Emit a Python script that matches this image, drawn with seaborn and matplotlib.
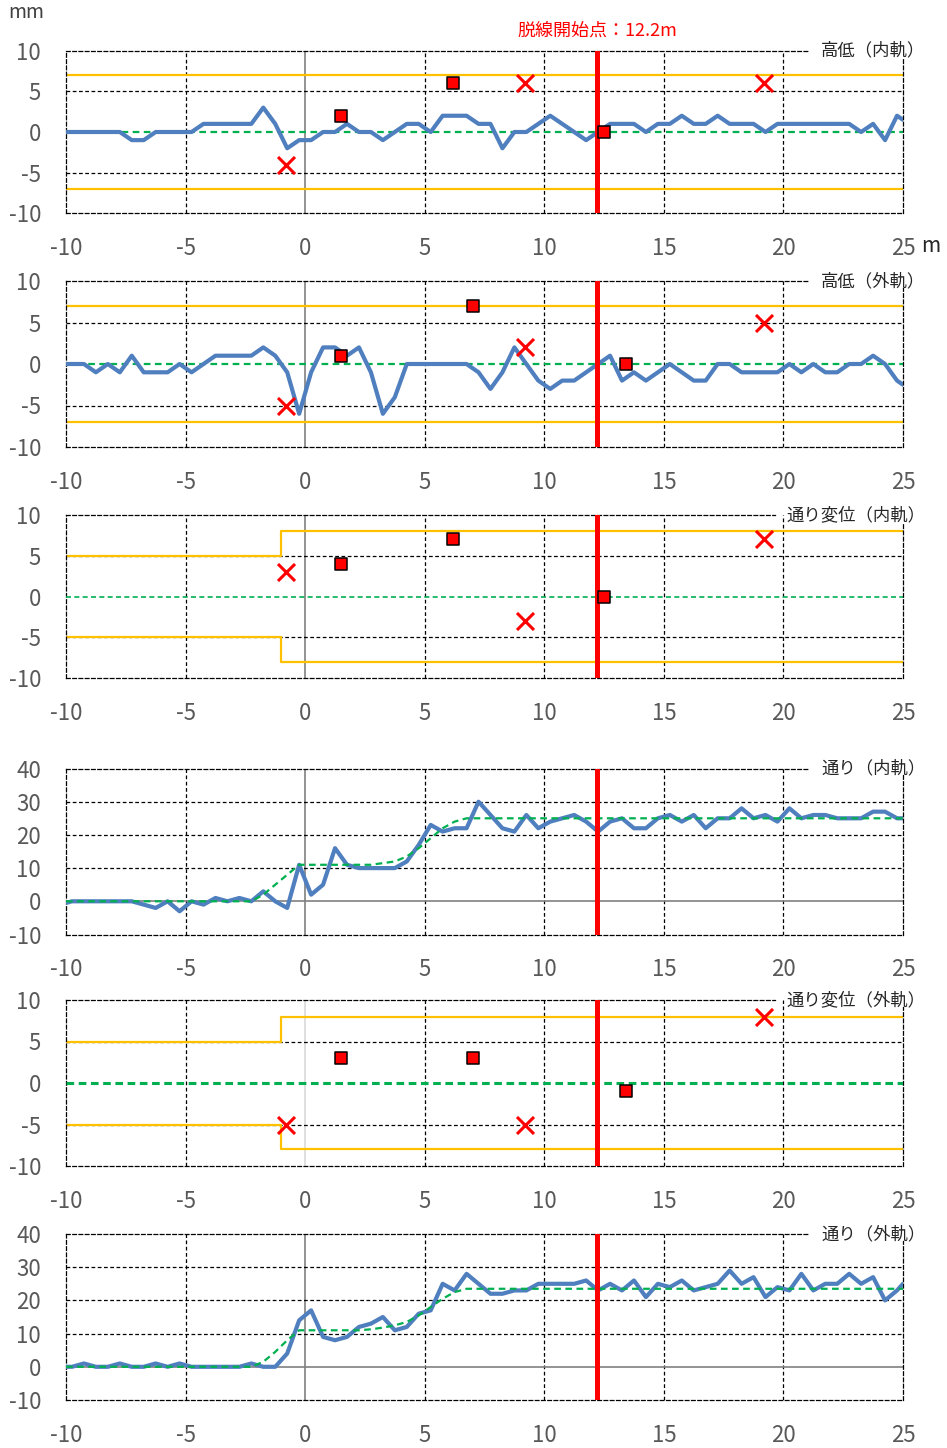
import numpy as np
import matplotlib
matplotlib.use("Agg")
import matplotlib.pyplot as plt
import matplotlib.transforms as mtrans
import seaborn as sns

# ---------------- data ----------------
x_pos = [-10.0] + list(np.arange(-9.75, 25.0, 0.5)) + [25.0]

takatei_inner = [0,
                 0, 0, 0, 0, 0, -1, -1, 0, 0, 0,
                 0, 1, 1, 1, 1, 1, 3, 1, -2, -1,
                 -1, 0, 0, 1, 0, 0, -1, 0, 1, 1,
                 0, 2, 2, 2, 1, 1, -2, 0, 0, 1,
                 2, 1, 0, -1, 0, 1, 1, 1, 0, 1,
                 1, 2, 1, 1, 2, 1, 1, 1, 0, 1,
                 1, 1, 1, 1, 1, 1, 0, 1, -1, 2,
                 1.5]

takatei_outer = [0,
                 0, 0, -1, 0, -1, 1, -1, -1, -1, 0,
                 -1, 0, 1, 1, 1, 1, 2, 1, -1, -6,
                 -1, 2, 2, 1, 2, -1, -6, -4, 0, 0,
                 0, 0, 0, 0, -1, -3, -1, 2, 0, -2,
                 -3, -2, -2, -1, 0, 1, -2, -1, -2, -1,
                 0, -1, -2, -2, 0, 0, -1, -1, -1, -1,
                 0, -1, 0, -1, -1, 0, 0, 1, 0, -2,
                 -2.5]

tori_inner = [-0.5,
              0, 0, 0, 0, 0, 0, -1, -2, 0, -3,
              0, -1, 1, 0, 1, 0, 3, 0, -2, 11,
              2, 5, 16, 11, 10, 10, 10, 10, 12, 17,
              23, 21, 22, 22, 30, 26, 22, 21, 26, 22,
              24, 25, 26, 24, 21, 24, 25, 22, 22, 25,
              26, 24, 26, 22, 25, 25, 28, 25, 26, 24,
              28, 25, 26, 26, 25, 25, 25, 27, 27, 25,
              25]

tori_inner_plan = [0,
                   0, 0, 0, 0, 0, 0, 0, 0, 0, 0,
                   0, 0, 0, 0, 0, 0, 2, 5, 8, 11,
                   11, 11, 11, 11, 11, 11, 11.5, 12, 13.5, 16,
                   19, 22, 24, 25, 25, 25, 25, 25, 25, 25,
                   25, 25, 25, 25, 25, 25, 25, 25, 25, 25,
                   25, 25, 25, 25, 25, 25, 25, 25, 25, 25,
                   25, 25, 25, 25, 25, 25, 25, 25, 25, 25,
                   25]

tori_outer = [0,
              0, 1, 0, 0, 1, 0, 0, 1, 0, 1,
              0, 0, 0, 0, 0, 1, 0, 0, 4, 14,
              17, 9, 8, 9, 12, 13, 15, 11, 12, 16,
              17, 25, 23, 28, 25, 22, 22, 23, 23, 25,
              25, 25, 25, 26, 23, 25, 23, 26, 21, 25,
              24, 26, 23, 24, 25, 29, 25, 27, 21, 24,
              23, 28, 23, 25, 25, 28, 25, 27, 20, 23,
              25]

tori_outer_plan = [0,
                   0, 0, 0, 0, 0, 0, 0, 0, 0, 0,
                   0, 0, 0, 0, 0, 0, 1.5, 4.5, 8, 11,
                   11, 11, 11, 11, 11, 11.3, 11.8, 12.5, 13.5, 15.5,
                   18, 20.5, 22.5, 23.5, 23.5, 23.5, 23.5, 23.5, 23.5, 23.5,
                   23.5, 23.5, 23.5, 23.5, 23.5, 23.5, 23.5, 23.5, 23.5, 23.5,
                   23.5, 23.5, 23.5, 23.5, 23.5, 23.5, 23.5, 23.5, 23.5, 23.5,
                   23.5, 23.5, 23.5, 23.5, 23.5, 23.5, 23.5, 23.5, 23.5, 23.5,
                   23.5]

# markers (red squares / red crosses)
sq_x_inner = [1.5, 6.2, 12.5]
sq_x_outer = [1.5, 7.0, 13.4]
cross_x = [-0.8, 9.2, 19.2]

p1_sq_y = [2, 6, 0]
p1_cross_y = [-4, 6, 6]
p2_sq_y = [1, 7, 0]
p2_cross_y = [-5, 2, 5]
p3_sq_y = [4, 7, 0]
p3_cross_y = [3, -3, 7]
p5_sq_y = [3, 3, -1]
p5_cross_y = [-5, -5, 8]

# limit lines
range_x = [-10, 25]
takatei_limit = 7
step_x = [-10, -1, 25]
step_upper = [5, 8, 8]
step_lower = [-5, -8, -8]

derail_x = 12.2
derail_label = "脱線開始点：12.2m"

panel_titles = ["高低（内軌）", "高低（外軌）", "通り変位（内軌）",
                "通り（内軌）", "通り変位（外軌）", "通り（外軌）"]

x_ticks = [-10, -5, 0, 5, 10, 15, 20, 25]
y_ticks_small = [-10, -5, 0, 5, 10]
y_ticks_large = [-10, 0, 10, 20, 30, 40]

# ---------------- style ----------------
sns.set_theme(style="white")
plt.rcParams["font.family"] = ["Noto Sans CJK JP", "DejaVu Sans"]
plt.rcParams["axes.unicode_minus"] = False

BLUE = "#4F7FBE"
YELLOW = "#FFC000"
GREEN = "#00B050"
RED = "#FF0000"
TICKC = "#595959"
DASH = (0, (3, 2))

W, H = 947, 1448
fig = plt.figure(figsize=(W / 100, H / 100), dpi=100)

panel_px = [(50.7, 213.3), (281, 447), (515, 678),
            (768.5, 934.5), (1000, 1166), (1234, 1400)]

axes = []
for top, bot in panel_px:
    ax = fig.add_axes([66 / W, 1 - bot / H, 837 / W, (bot - top) / H])
    axes.append(ax)


def base(ax, ylim, yticks, x0_color="#808080", y0_axis=False):
    ax.set_xlim(-10, 25)
    ax.set_ylim(*ylim)
    ax.set_xticks(x_ticks)
    ax.set_yticks(yticks)
    ax.tick_params(axis="both", length=0, labelsize=16, labelcolor=TICKC)
    ax.tick_params(axis="y", pad=18)
    ax.tick_params(axis="x", pad=17)
    ax.grid(False)
    for v in x_ticks[1:-1]:
        if v == 0:
            ax.axvline(0, color=x0_color, lw=1.2, zorder=1)
        else:
            ax.axvline(v, color="black", lw=0.9, ls=DASH, zorder=1)
    for v in yticks[1:-1]:
        if v == 0:
            if y0_axis:
                ax.axhline(0, color="#808080", lw=1.2, zorder=1)
        else:
            ax.axhline(v, color="black", lw=0.9, ls=DASH, zorder=1)
    for s in ax.spines.values():
        s.set_visible(True)
        s.set_color("black")
        s.set_linewidth(0.9)
        s.set_linestyle(DASH)
    ax.set_xlabel("")
    ax.set_ylabel("")


def line(ax, xs, ys, **kw):
    sns.lineplot(x=xs, y=ys, ax=ax, estimator=None, sort=False, **kw)


def markers(ax, sqx, sqy, crx, cry):
    sns.scatterplot(x=crx, y=cry, ax=ax, marker="x", s=150, color=RED,
                    linewidth=2.2, zorder=6)
    sns.scatterplot(x=sqx, y=sqy, ax=ax, marker="s", s=85, color=RED,
                    edgecolor="black", linewidth=1.1, zorder=7)


# Panel 1
ax = axes[0]
base(ax, (-10, 10), y_ticks_small)
line(ax, range_x, [takatei_limit] * 2, color=YELLOW, lw=1.6, zorder=2)
line(ax, range_x, [-takatei_limit] * 2, color=YELLOW, lw=1.6, zorder=2)
line(ax, range_x, [0, 0], color=GREEN, lw=1.6, ls=DASH, zorder=3)
line(ax, x_pos, takatei_inner, color=BLUE, lw=3, zorder=4)
markers(ax, sq_x_inner, p1_sq_y, cross_x, p1_cross_y)

# Panel 2
ax = axes[1]
base(ax, (-10, 10), y_ticks_small)
line(ax, range_x, [takatei_limit] * 2, color=YELLOW, lw=1.6, zorder=2)
line(ax, range_x, [-takatei_limit] * 2, color=YELLOW, lw=1.6, zorder=2)
line(ax, range_x, [0, 0], color=GREEN, lw=1.6, ls=DASH, zorder=3)
line(ax, x_pos, takatei_outer, color=BLUE, lw=3, zorder=4)
markers(ax, sq_x_outer, p2_sq_y, cross_x, p2_cross_y)

# Panel 3
ax = axes[2]
base(ax, (-10, 10), y_ticks_small)
line(ax, step_x, step_upper, color=YELLOW, lw=1.6, zorder=2, drawstyle="steps-post")
line(ax, step_x, step_lower, color=YELLOW, lw=1.6, zorder=2, drawstyle="steps-post")
line(ax, range_x, [0, 0], color=GREEN, lw=1.2, ls=DASH, zorder=3)
markers(ax, sq_x_inner, p3_sq_y, cross_x, p3_cross_y)

# Panel 4
ax = axes[3]
base(ax, (-10, 40), y_ticks_large, y0_axis=True)
line(ax, x_pos, tori_inner, color=BLUE, lw=3, zorder=4)
line(ax, x_pos, tori_inner_plan, color=GREEN, lw=1.6, ls=DASH, zorder=5)

# Panel 5
ax = axes[4]
base(ax, (-10, 10), y_ticks_small, x0_color="#D9D9D9")
line(ax, step_x, step_upper, color=YELLOW, lw=1.6, zorder=2, drawstyle="steps-post")
line(ax, step_x, step_lower, color=YELLOW, lw=1.6, zorder=2, drawstyle="steps-post")
line(ax, range_x, [0, 0], color=GREEN, lw=2.2, ls=(0, (2.5, 1.5)), zorder=3)
markers(ax, sq_x_outer, p5_sq_y, cross_x, p5_cross_y)

# Panel 6
ax = axes[5]
base(ax, (-10, 40), y_ticks_large, y0_axis=True)
line(ax, x_pos, tori_outer, color=BLUE, lw=3, zorder=4)
line(ax, x_pos, tori_outer_plan, color=GREEN, lw=1.6, ls=DASH, zorder=5)

# derailment line
for ax in axes:
    ax.axvline(derail_x, color=RED, lw=3.6, zorder=6)

# derailment label
tr = mtrans.blended_transform_factory(axes[0].transData, axes[0].transAxes)
axes[0].text(derail_x, 1.125, derail_label, transform=tr, ha="center",
             va="center", color=RED, fontsize=13, clip_on=False)

# panel titles
titles = []
for ax, t in zip(axes, panel_titles):
    titles.append(ax.text(1.027, 1.0, t, transform=ax.transAxes, ha="right",
                          va="center", fontsize=12.5, color="#262626",
                          clip_on=False, zorder=10))

fig.text(8 / W, 1 - 12 / H, "mm", ha="left", va="center", fontsize=14, color="#404040")
fig.text(921 / W, 1 - 246 / H, "m", ha="left", va="center", fontsize=15, color="#262626")

# trim top/right frame around the titles
fig.canvas.draw()
rend = fig.canvas.get_renderer()
for ax, t in zip(axes, titles):
    bb = t.get_window_extent(rend)
    inv = ax.transData.inverted()
    xend = inv.transform((bb.x0 - 12, 0))[0]
    yend = inv.transform((0, bb.y0 + 2))[1]
    ylo, yhi = ax.get_ylim()
    ax.spines["top"].set_bounds(-10, xend)
    ax.spines["right"].set_bounds(ylo, yend)

fig.savefig("out.png", dpi=100)
